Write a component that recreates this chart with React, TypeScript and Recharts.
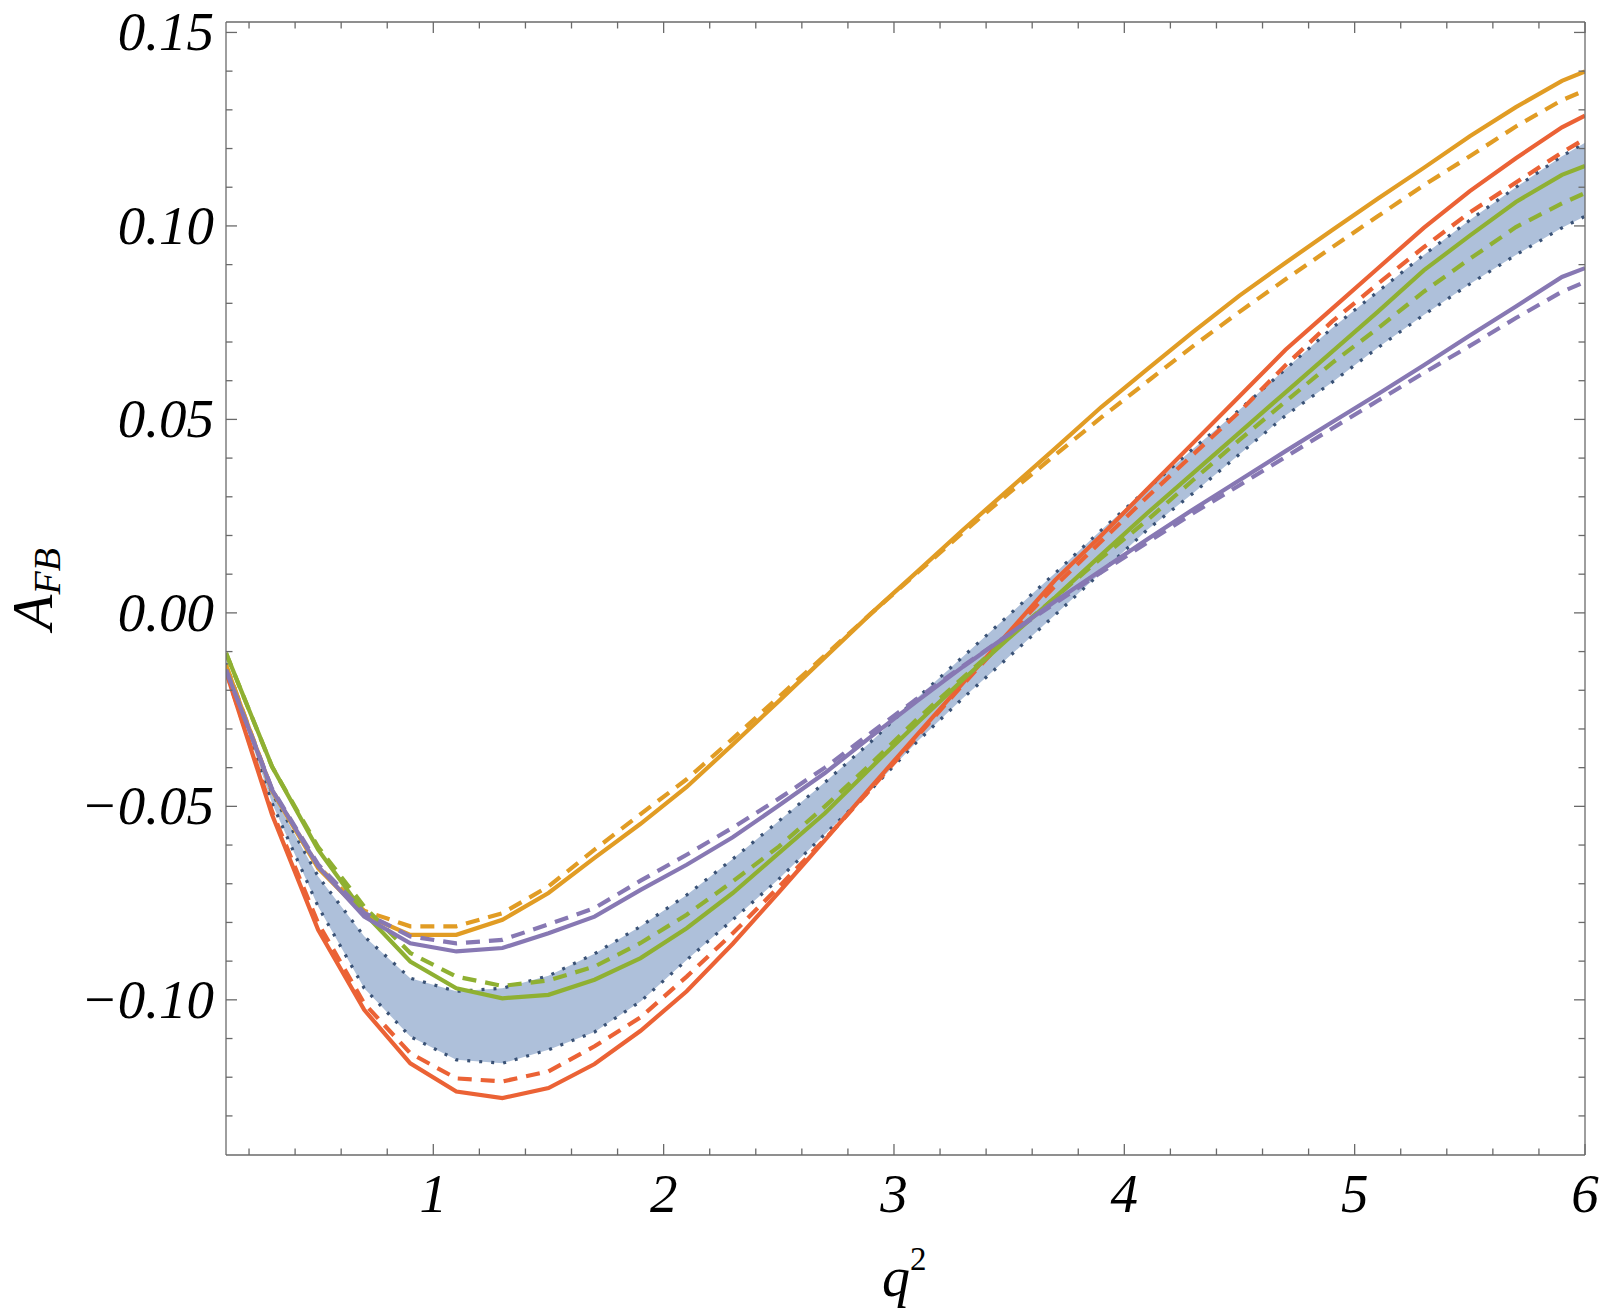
import React from "react";
import { Area, ComposedChart, Line, XAxis, YAxis } from "recharts";

// q^2 sample points
const q2 = [0.1, 0.3, 0.5, 0.7, 0.9, 1.1, 1.3, 1.5, 1.7, 1.9, 2.1, 2.3, 2.5, 2.7, 2.9, 3.1, 3.3, 3.5, 3.7, 3.9, 4.1, 4.3, 4.5, 4.7, 4.9, 5.1, 5.3, 5.5, 5.7, 5.9, 6.0];

const orangeSolid = [-0.0135, -0.046, -0.066, -0.078, -0.0832, -0.0832, -0.0793, -0.0724, -0.0633, -0.0545, -0.045, -0.034, -0.0228, -0.0115, -0.0002, 0.0106, 0.0215, 0.032, 0.0425, 0.0532, 0.063, 0.0727, 0.082, 0.0905, 0.0988, 0.107, 0.115, 0.1232, 0.1307, 0.1375, 0.1399];
const orangeDashed = [-0.0135, -0.0458, -0.0655, -0.077, -0.081, -0.081, -0.0776, -0.0707, -0.0612, -0.052, -0.043, -0.0325, -0.0217, -0.011, -0.0002, 0.0103, 0.0208, 0.031, 0.0408, 0.0505, 0.0598, 0.069, 0.0778, 0.0862, 0.0944, 0.1025, 0.1105, 0.118, 0.1257, 0.1325, 0.135];
const redSolid = [-0.0152, -0.0522, -0.0819, -0.1026, -0.1164, -0.1237, -0.1254, -0.1228, -0.1166, -0.108, -0.0978, -0.0855, -0.0722, -0.0587, -0.045, -0.0315, -0.0181, -0.0049, 0.0085, 0.02, 0.032, 0.044, 0.056, 0.068, 0.0785, 0.089, 0.0995, 0.109, 0.1175, 0.1255, 0.1285];
const redDashed = [-0.015, -0.0513, -0.0802, -0.1009, -0.1138, -0.1203, -0.1211, -0.1185, -0.112, -0.1045, -0.094, -0.0828, -0.0708, -0.0585, -0.0455, -0.032, -0.0185, -0.0055, 0.007, 0.0185, 0.03, 0.041, 0.052, 0.064, 0.0752, 0.085, 0.0945, 0.1035, 0.1112, 0.119, 0.1225];
const greenSolid = [-0.0104, -0.0397, -0.0612, -0.0776, -0.0901, -0.097, -0.0996, -0.0987, -0.0948, -0.0892, -0.0815, -0.0724, -0.0621, -0.0518, -0.04, -0.0285, -0.0172, -0.0065, 0.004, 0.015, 0.0258, 0.0362, 0.0466, 0.057, 0.0674, 0.0778, 0.0885, 0.0975, 0.1062, 0.1132, 0.1155];
const greenDashed = [-0.0104, -0.0398, -0.0605, -0.0759, -0.0879, -0.094, -0.0964, -0.095, -0.0914, -0.0853, -0.078, -0.0694, -0.0604, -0.05, -0.039, -0.0275, -0.0167, -0.0062, 0.004, 0.0142, 0.024, 0.0344, 0.0447, 0.0546, 0.0645, 0.0735, 0.083, 0.0915, 0.0997, 0.1058, 0.1085];
const purpleSolid = [-0.0147, -0.0457, -0.0655, -0.0785, -0.0854, -0.0875, -0.0866, -0.0828, -0.0785, -0.0716, -0.0651, -0.058, -0.0498, -0.0414, -0.032, -0.0228, -0.0139, -0.0055, 0.003, 0.011, 0.019, 0.0268, 0.0343, 0.0418, 0.0492, 0.0565, 0.064, 0.0717, 0.0792, 0.0868, 0.0891];
const purpleDashed = [-0.0147, -0.0455, -0.065, -0.0775, -0.0836, -0.0854, -0.0845, -0.0805, -0.0763, -0.0692, -0.0625, -0.0555, -0.048, -0.04, -0.031, -0.0222, -0.0137, -0.0055, 0.0025, 0.0105, 0.0182, 0.0258, 0.033, 0.0403, 0.0476, 0.0548, 0.062, 0.069, 0.0762, 0.083, 0.0855];
const bandLower = [-0.014, -0.0492, -0.0759, -0.097, -0.1095, -0.1155, -0.1164, -0.1129, -0.1083, -0.1004, -0.0897, -0.0793, -0.0688, -0.0572, -0.0457, -0.0333, -0.022, -0.0113, -0.0005, 0.0105, 0.0215, 0.031, 0.041, 0.051, 0.0595, 0.0685, 0.077, 0.085, 0.0925, 0.0995, 0.1025];
const bandUpper = [-0.013, -0.0466, -0.0681, -0.0836, -0.0944, -0.0978, -0.097, -0.0938, -0.0881, -0.081, -0.0729, -0.0636, -0.0538, -0.0438, -0.0333, -0.022, -0.0113, -0.0005, 0.0103, 0.0214, 0.032, 0.0425, 0.0525, 0.063, 0.0735, 0.083, 0.0925, 0.1015, 0.11, 0.118, 0.1215];

const xMajorTicks = [1, 2, 3, 4, 5, 6];
const yMajorTicks = [-0.1, -0.05, 0, 0.05, 0.1, 0.15];

// minor ticks: every 0.2 on x, every 0.01 on y
const xMinorTicks: number[] = [];
for (let i = 1; i < 30; i++) if (i % 5 !== 0) xMinorTicks.push(Math.round(i * 2) / 10);
const yMinorTicks: number[] = [];
for (let i = -13; i <= 15; i++) if (i % 5 !== 0) yMinorTicks.push(i / 100);

const xTicks = [...xMinorTicks, ...xMajorTicks];
const yTicks = [...yMinorTicks, ...yMajorTicks];

const data = q2.map((q, i) => ({
  q,
  os: orangeSolid[i],
  od: orangeDashed[i],
  rs: redSolid[i],
  rd: redDashed[i],
  gs: greenSolid[i],
  gd: greenDashed[i],
  ps: purpleSolid[i],
  pd: purpleDashed[i],
  lo: bandLower[i],
  hi: bandUpper[i],
  band: [bandLower[i], bandUpper[i]],
}));

const FRAME = "#6a6a6a";
const FONT = "'Liberation Serif', 'Times New Roman', serif";
const ORANGE = "#E19C24";
const RED = "#EB6235";
const GREEN = "#8FB032";
const PURPLE = "#8778B3";
const BAND = "#AEC0DA";
const BAND_EDGE = "#3A5276";
const MAJOR = 11;
const MINOR = 6.5;

const isMajor = (v: number, majors: number[]) => majors.some((m) => Math.abs(m - v) < 1e-9);
const fmtY = (v: number) => (v < 0 ? "\u2212" : "") + Math.abs(v).toFixed(2);

const BottomTick = ({ x, y, payload }: any) => {
  const major = isMajor(payload.value, xMajorTicks);
  return (
    <g>
      <line x1={x} x2={x} y1={y} y2={y - (major ? MAJOR : MINOR)} stroke={FRAME} strokeWidth={1.3} />
      {major && (
        <text x={x} y={y + 57} textAnchor="middle" fontFamily={FONT} fontStyle="italic" fontSize={55} fill="#000">
          {payload.value}
        </text>
      )}
    </g>
  );
};

const TopTick = ({ x, y, payload }: any) => {
  const major = isMajor(payload.value, xMajorTicks);
  return <line x1={x} x2={x} y1={y} y2={y + (major ? MAJOR : MINOR)} stroke={FRAME} strokeWidth={1.3} />;
};

const LeftTick = ({ x, y, payload }: any) => {
  const major = isMajor(payload.value, yMajorTicks);
  return (
    <g>
      <line x1={x} x2={x + (major ? MAJOR : MINOR)} y1={y} y2={y} stroke={FRAME} strokeWidth={1.3} />
      {major && (
        <text x={x - 12} y={y + 18} textAnchor="end" fontFamily={FONT} fontStyle="italic" fontSize={55} fill="#000">
          {fmtY(payload.value)}
        </text>
      )}
    </g>
  );
};

const RightTick = ({ x, y, payload }: any) => {
  const major = isMajor(payload.value, yMajorTicks);
  return <line x1={x} x2={x - (major ? MAJOR : MINOR)} y1={y} y2={y} stroke={FRAME} strokeWidth={1.3} />;
};

const LW = 4.2;
const DASH = "14 9";
const DOT = "3 9";

export default function App() {
  const axisLine = { stroke: FRAME, strokeWidth: 1.3 };
  const xDomain = [0.1, 6];
  const yDomain = [-0.1401, 0.1527];
  return (
    <div style={{ position: "absolute", left: 0, top: 0, width: 1600, height: 1311, background: "#fff" }}>
      <ComposedChart width={1600} height={1311} data={data} margin={{ top: 0, right: 0, bottom: 0, left: 0 }}>
        <XAxis xAxisId="b" dataKey="q" type="number" domain={xDomain} allowDataOverflow ticks={xTicks} interval={0}
          orientation="bottom" height={156} tickSize={0} tickMargin={0} tickLine={false} axisLine={axisLine} tick={<BottomTick />} />
        <XAxis xAxisId="t" dataKey="q" type="number" domain={xDomain} allowDataOverflow ticks={xTicks} interval={0}
          orientation="top" height={22} tickSize={0} tickMargin={0} tickLine={false} axisLine={axisLine} tick={<TopTick />} />
        <YAxis yAxisId="l" type="number" domain={yDomain} allowDataOverflow ticks={yTicks} interval={0}
          orientation="left" width={226} tickSize={0} tickMargin={0} tickLine={false} axisLine={axisLine} tick={<LeftTick />} />
        <YAxis yAxisId="r" type="number" domain={yDomain} allowDataOverflow ticks={yTicks} interval={0}
          orientation="right" width={15} tickSize={0} tickMargin={0} tickLine={false} axisLine={axisLine} tick={<RightTick />} />

        <Area xAxisId="b" yAxisId="l" type="linear" dataKey="band" fill={BAND} fillOpacity={1} stroke="none" isAnimationActive={false} />
        <Line xAxisId="b" yAxisId="l" type="linear" dataKey="lo" stroke={BAND_EDGE} strokeWidth={3.2} strokeDasharray={DOT} dot={false} isAnimationActive={false} />
        <Line xAxisId="b" yAxisId="l" type="linear" dataKey="hi" stroke={BAND_EDGE} strokeWidth={3.2} strokeDasharray={DOT} dot={false} isAnimationActive={false} />

        <Line xAxisId="b" yAxisId="l" type="linear" dataKey="rd" stroke={RED} strokeWidth={LW} strokeDasharray={DASH} dot={false} isAnimationActive={false} />
        <Line xAxisId="b" yAxisId="l" type="linear" dataKey="rs" stroke={RED} strokeWidth={LW} dot={false} isAnimationActive={false} />
        <Line xAxisId="b" yAxisId="l" type="linear" dataKey="od" stroke={ORANGE} strokeWidth={LW} strokeDasharray={DASH} dot={false} isAnimationActive={false} />
        <Line xAxisId="b" yAxisId="l" type="linear" dataKey="os" stroke={ORANGE} strokeWidth={LW} dot={false} isAnimationActive={false} />
        <Line xAxisId="b" yAxisId="l" type="linear" dataKey="gd" stroke={GREEN} strokeWidth={LW} strokeDasharray={DASH} dot={false} isAnimationActive={false} />
        <Line xAxisId="b" yAxisId="l" type="linear" dataKey="gs" stroke={GREEN} strokeWidth={LW} dot={false} isAnimationActive={false} />
        <Line xAxisId="b" yAxisId="l" type="linear" dataKey="pd" stroke={PURPLE} strokeWidth={LW} strokeDasharray={DASH} dot={false} isAnimationActive={false} />
        <Line xAxisId="b" yAxisId="l" type="linear" dataKey="ps" stroke={PURPLE} strokeWidth={LW} dot={false} isAnimationActive={false} />
      </ComposedChart>

      {/* axis titles */}
      <svg width={1600} height={1311} style={{ position: "absolute", left: 0, top: 0, pointerEvents: "none" }}>
        <text transform="translate(52,630) rotate(-90)" fontFamily={FONT} fontStyle="italic" fontSize={58} fill="#000">
          <tspan>A</tspan>
          <tspan fontSize={38} dy={8}>FB</tspan>
        </text>
        <text x={882} y={1296} fontFamily={FONT} fontStyle="italic" fontSize={56} fill="#000">
          <tspan>q</tspan>
          <tspan fontStyle="normal" fontSize={33} dy={-26}>2</tspan>
        </text>
      </svg>
    </div>
  );
}
